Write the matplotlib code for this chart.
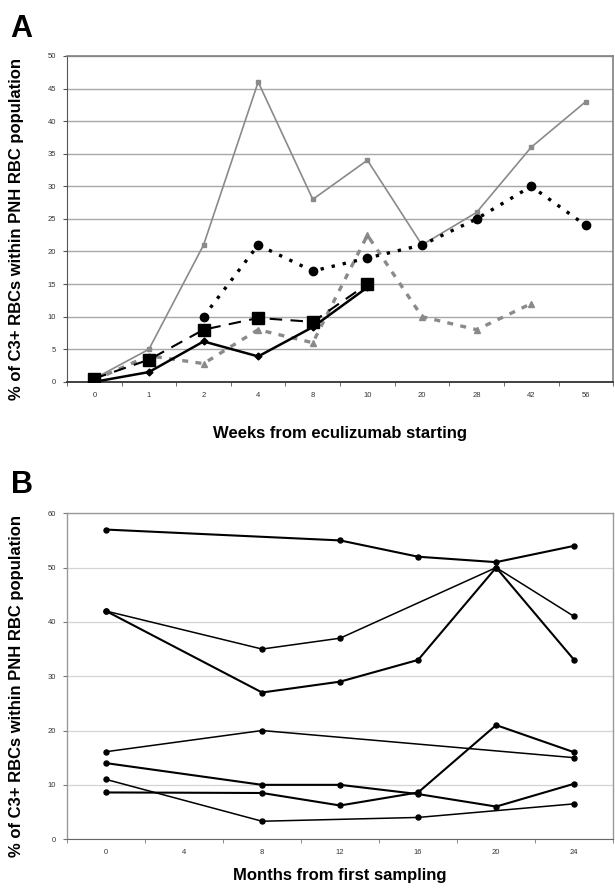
import numpy as np
import matplotlib
matplotlib.use("Agg")
import matplotlib.pyplot as plt

plt.rcParams["font.family"] = ["Liberation Sans", "DejaVu Sans"]

# Panel A data (weeks from eculizumab start, categorical axis)
weeks = ["0", "1", "2", "4", "8", "10", "20", "28", "42", "56"]
gray_solid = [0.5, 5, 21, 46, 28, 34, 21, 26, 36, 43]
black_dotted = [np.nan, np.nan, 10, 21, 17, 19, 21, 25, 30, 24]
black_dashed = [0.5, 3.4, 8, 9.8, 9.2, 15, np.nan, np.nan, np.nan, np.nan]
black_solid = [0, 1.5, 6.2, 3.9, 8.4, 14.5, np.nan, np.nan, np.nan, np.nan]
gray_dashed = [0.3, 4, 2.8, 8, 6, 22.5, 10, 8, 12, np.nan]

# Panel B data (months from first sampling), one patient per list
pat1_months = [0, 12, 16, 20, 24]
pat1_vals = [57, 55, 52, 51, 54]
pat2_months = [0, 8, 12, 20, 24]
pat2_vals = [42, 35, 37, 50, 41]
pat3_months = [0, 8, 12, 16, 20, 24]
pat3_vals = [42, 27, 29, 33, 50, 33]
pat4_months = [0, 8, 24]
pat4_vals = [16.1, 20, 15]
pat5_months = [0, 8, 12, 16, 20, 24]
pat5_vals = [14, 10, 10, 8.3, 6, 10.2]
pat6_months = [0, 8, 16, 24]
pat6_vals = [11, 3.3, 4, 6.5]
pat7_months = [0, 8, 12, 16, 20, 24]
pat7_vals = [8.6, 8.5, 6.2, 8.6, 21, 16]

fig = plt.figure(figsize=(6.15, 8.88), dpi=100)

# ---- Panel A ----
ax = fig.add_axes([0.109, 0.570, 0.888, 0.367])
x = np.arange(len(weeks))
ax.plot(x, gray_solid, color="#8a8a8a", lw=1.2, marker="s", ms=2.2, zorder=3)
ax.plot(x, gray_dashed, color="#8a8a8a", lw=2.4, ls=(0, (1.8, 2.2)),
        marker="^", ms=4.5, zorder=3)
ax.plot(x, black_dotted, color="black", lw=2.4, ls=(0, (1.0, 2.4)),
        marker="o", ms=6, zorder=4)
ax.plot(x, black_dashed, color="black", lw=1.5, ls=(0, (6, 4)),
        marker="s", ms=8, zorder=4)
ax.plot(x, black_solid, color="black", lw=1.8, marker="D", ms=3.5, zorder=5)

ax.set_xlim(-0.5, len(weeks) - 0.5)
ax.set_ylim(0, 50)
ax.set_yticks(range(0, 51, 5))
ax.set_xticks(x)
ax.set_xticklabels(weeks)
ax.set_xticks(np.arange(-0.5, len(weeks), 1), minor=True)
ax.tick_params(axis="x", which="major", length=0, pad=7)
ax.tick_params(axis="x", which="minor", length=3, color="#555555")
ax.tick_params(axis="y", length=3, color="#555555", pad=5)
ax.tick_params(labelsize=5.5, labelcolor="#333333")
ax.grid(axis="y", color="#a8a8a8", lw=1.0)
ax.set_axisbelow(True)
for s in ["top", "right"]:
    ax.spines[s].set_color("#808080")
    ax.spines[s].set_linewidth(1.2)
ax.spines["left"].set_color("#555555")
ax.spines["bottom"].set_color("#333333")
ax.spines["bottom"].set_linewidth(1.3)
ax.set_xlabel("Weeks from eculizumab starting", fontsize=12, fontweight="bold",
              labelpad=20)
ax.set_ylabel("% of C3+ RBCs within PNH RBC population", fontsize=12,
              fontweight="bold")
ax.yaxis.set_label_coords(-0.078, 0.47)
fig.text(0.016, 0.958, "A", fontsize=22, fontweight="bold", va="baseline")

# ---- Panel B ----
bx = fig.add_axes([0.109, 0.055, 0.888, 0.367])
patients = [
    (pat1_months, pat1_vals, 1.5),
    (pat2_months, pat2_vals, 1.1),
    (pat3_months, pat3_vals, 1.5),
    (pat4_months, pat4_vals, 1.1),
    (pat5_months, pat5_vals, 1.5),
    (pat6_months, pat6_vals, 1.1),
    (pat7_months, pat7_vals, 1.5),
]
for months, vals, lw in patients:
    bx.plot(months, vals, color="black", lw=lw, marker="o", ms=3.6, zorder=3)

bx.set_xlim(-2, 26)
bx.set_ylim(0, 60)
bx.set_yticks(range(0, 61, 10))
bx.set_xticks(range(0, 25, 4))
bx.set_xticks(np.arange(-2, 27, 4), minor=True)
bx.tick_params(axis="x", which="major", length=0, pad=7)
bx.tick_params(axis="x", which="minor", length=3, color="#777777")
bx.tick_params(axis="y", length=3, color="#777777", pad=5)
bx.tick_params(labelsize=5.5, labelcolor="#333333")
bx.grid(axis="y", color="#d4d4d4", lw=0.9)
bx.set_axisbelow(True)
for s in ["top", "right", "left"]:
    bx.spines[s].set_color("#9a9a9a")
    bx.spines[s].set_linewidth(1.0)
bx.spines["bottom"].set_color("#666666")
bx.set_xlabel("Months from first sampling", fontsize=12, fontweight="bold",
              labelpad=9)
bx.set_ylabel("% of C3+ RBCs within PNH RBC population", fontsize=12,
              fontweight="bold")
bx.yaxis.set_label_coords(-0.078, 0.47)
fig.text(0.018, 0.445, "B", fontsize=22, fontweight="bold", va="baseline")

fig.savefig("out.png", dpi=100)
